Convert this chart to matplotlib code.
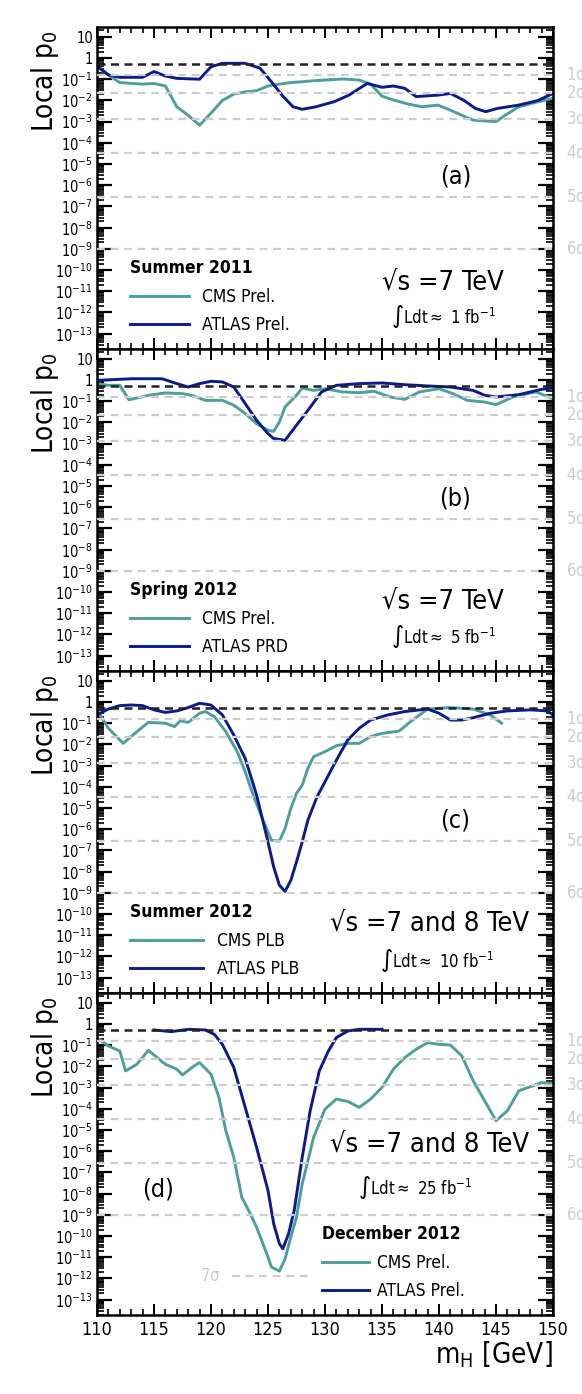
import numpy as np
import matplotlib
matplotlib.use('Agg')
import matplotlib.pyplot as plt
from matplotlib.ticker import LogLocator, FuncFormatter, MultipleLocator, NullFormatter

plt.rcParams['font.family'] = ['DejaVu Sans']
plt.rcParams['font.stretch'] = 'condensed'
plt.rcParams['mathtext.default'] = 'regular'

# # # data: local p0 vs m_H, stored as log10(p0) # # #
# (a) Summer 2011, 7 TeV, ~1 fb-1
a_cms_m = [110, 111, 112, 114, 115, 116, 117, 118, 119, 120, 121, 122, 123, 124, 125, 126, 127, 128, 129, 130,
           131.6, 133, 134, 135, 136, 137.3, 138.5, 139.9, 141, 142, 143, 145, 145.8, 147, 148.4, 150]
a_cms_lp = [-0.41, -0.8, -1.16, -1.23, -1.2, -1.32, -2.3, -2.7, -3.17, -2.6, -2.0, -1.7, -1.6, -1.54, -1.32, -1.23,
            -1.16, -1.12, -1.07, -1.04, -0.99, -1.04, -1.23, -1.8, -1.98, -2.17, -2.3, -2.22, -2.46, -2.7, -2.93,
            -3.0, -2.7, -2.3, -2.1, -1.9]
a_atl_m = [110, 111, 112, 114, 115, 116, 117, 119, 120, 121, 123, 124.3, 125.3, 126.3, 127.2, 128, 129.2, 130.8,
           132.1, 133.7, 135, 136, 137, 138, 139.9, 141, 142.2, 143.2, 144.1, 145.1, 147, 148.7, 150]
a_atl_lp = [-0.37, -0.8, -0.91, -0.91, -0.64, -0.85, -0.96, -1.0, -0.41, -0.25, -0.25, -0.48, -1.12, -1.8, -2.3,
            -2.42, -2.3, -2.06, -1.75, -1.2, -1.38, -1.32, -1.43, -1.82, -1.75, -1.67, -2.0, -2.38, -2.53, -2.38,
            -2.22, -2.0, -1.67]

# (b) Spring 2012, 7 TeV, ~5 fb-1
b_cms_m = [110, 111, 112, 112.8, 113.5, 114.5, 116, 117.5, 118.5, 119.5, 121, 122, 123, 124, 125, 125.5, 126,
           126.5, 127.5, 128, 129, 130, 131.5, 133, 134.3, 135.7, 137, 138.3, 140, 141.2, 142.5, 144, 145, 146.5,
           148.5, 150]
b_cms_lp = [-0.17, -0.25, -0.25, -0.93, -0.85, -0.72, -0.61, -0.64, -0.75, -0.96, -0.96, -1.19, -1.58, -2.06,
            -2.37, -2.42, -1.98, -1.27, -0.72, -0.38, -0.49, -0.41, -0.56, -0.6, -0.53, -0.8, -0.91, -0.56, -0.41,
            -0.64, -0.96, -1.04, -1.16, -0.8, -0.56, -0.88]
b_atl_m = [110, 113, 115.7, 117, 118, 119, 120, 121, 122, 123, 124, 125, 125.5, 126.5, 127.5, 128.5, 129.7, 131,
           133, 135, 137, 139, 141, 143, 144, 145, 147, 149, 150]
b_atl_lp = [-0.02, 0.06, 0.06, -0.17, -0.33, -0.17, -0.06, -0.09, -0.33, -1.11, -1.9, -2.53, -2.76, -2.84, -2.13,
            -1.43, -0.56, -0.25, -0.17, -0.14, -0.22, -0.28, -0.33, -0.49, -0.72, -0.8, -0.69, -0.44, -0.38]

# (c) Summer 2012, 7+8 TeV, ~10 fb-1
c_cms_m = [110, 111, 112.3, 113.5, 114.5, 116, 116.8, 117.3, 118, 119, 119.5, 120.3, 121.3, 122.3, 123, 123.7,
           124.5, 125.3, 126, 126.5, 127, 127.5, 128, 128.5, 129, 130, 131, 132, 133, 134, 135, 136.5, 137.5, 139,
           141, 143, 144.5, 145.5]
c_cms_lp = [-0.37, -1.24, -1.95, -1.4, -0.96, -1.0, -1.16, -0.89, -0.96, -0.53, -0.45, -0.69, -1.4, -2.34, -3.29,
            -4.39, -5.49, -6.52, -6.56, -5.96, -5.02, -4.31, -3.92, -3.13, -2.58, -2.34, -2.06, -1.95, -1.95, -1.63,
            -1.48, -1.37, -0.93, -0.33, -0.26, -0.33, -0.61, -1.0]
c_atl_m = [110, 111, 112, 113, 114, 115, 116, 117, 118, 119, 120, 121, 122, 123, 124, 125, 125.5, 126, 126.5, 127,
           127.5, 128, 128.5, 129.3, 130, 131, 132, 133, 134, 135.5, 137, 139, 140, 141, 142, 143, 144.5, 146, 148,
           149.5, 150]
c_atl_lp = [-0.61, -0.33, -0.17, -0.14, -0.17, -0.37, -0.49, -0.42, -0.26, -0.06, -0.14, -0.61, -1.56, -2.66,
            -4.39, -6.6, -7.78, -8.64, -8.93, -8.41, -7.54, -6.6, -5.57, -4.47, -3.76, -2.74, -1.79, -1.24, -0.85,
            -0.61, -0.45, -0.33, -0.53, -0.85, -0.85, -0.74, -0.53, -0.42, -0.37, -0.42, -0.61]

# (d) December 2012, 7+8 TeV, ~25 fb-1
d_cms_m = [110, 111, 112, 112.5, 113.5, 114.5, 116, 117, 117.5, 118.5, 119, 120, 120.7, 121.3, 122, 122.7, 123.3,
           124, 125, 125.3, 126, 126.5, 127, 127.5, 128, 129, 130, 131, 132, 133, 134, 135, 136, 137, 138, 139,
           140, 141, 142, 143, 144, 145, 146, 147, 148, 149, 150]
d_cms_lp = [-0.64, -1.04, -1.27, -2.21, -1.9, -1.24, -1.9, -2.13, -2.4, -1.98, -1.82, -2.37, -3.46, -5.03, -6.29,
            -8.17, -8.79, -9.58, -10.99, -11.46, -11.65, -11.07, -10.05, -9.11, -7.54, -5.35, -4.01, -3.54, -3.65,
            -3.93, -3.54, -2.99, -2.13, -1.58, -1.19, -0.88, -0.96, -0.99, -1.5, -2.68, -3.62, -4.56, -4.09, -3.15,
            -2.96, -2.76, -2.81]
d_atl_m = [115, 116.5, 118, 119.5, 120.3, 121, 122, 123, 124, 125, 125.5, 126, 126.3, 126.8, 127.3, 128, 128.7,
           129.5, 130.3, 131, 132, 133, 135]
d_atl_lp = [-0.28, -0.36, -0.25, -0.28, -0.49, -0.96, -2.05, -3.93, -5.82, -7.85, -9.42, -10.36, -10.6, -9.9,
            -8.79, -6.29, -4.09, -2.21, -1.27, -0.64, -0.33, -0.25, -0.25]

periods = ['Summer 2011', 'Spring 2012', 'Summer 2012', 'December 2012']
cms_labels = ['CMS Prel.', 'CMS Prel.', 'CMS PLB', 'CMS Prel.']
atlas_labels = ['ATLAS Prel.', 'ATLAS PRD', 'ATLAS PLB', 'ATLAS Prel.']
energies = ['\u221as =7 TeV', '\u221as =7 TeV', '\u221as =7 and 8 TeV', '\u221as =7 and 8 TeV']
lumis = ['1', '5', '10', '25']
tags = ['(a)', '(b)', '(c)', '(d)']

sigma_names = ['1', '2', '3', '4', '5', '6']
sigma_p = [0.1587, 0.02275, 1.35e-3, 3.167e-5, 2.867e-7, 9.866e-10]
p7 = 1.28e-12

cms_col = '#4d9f9c'
atl_col = '#0c1a8c'
grey = '#cdcdcd'

panels = [(a_cms_m, a_cms_lp, a_atl_m, a_atl_lp),
          (b_cms_m, b_cms_lp, b_atl_m, b_atl_lp),
          (c_cms_m, c_cms_lp, c_atl_m, c_atl_lp),
          (d_cms_m, d_cms_lp, d_atl_m, d_atl_lp)]

fig, axes = plt.subplots(4, 1, sharex=True, figsize=(5.82, 13.94), dpi=100)
fig.subplots_adjust(left=97/582., right=553/582., top=1-27/1394., bottom=1-1315/1394., hspace=0)


def ylab(v, pos):
    e = int(round(np.log10(v)))
    if e == 1:
        return '10'
    if e == 0:
        return '1'
    return r'$10^{%d}$' % e


# legend / text anchors (axes fraction)
leg_xy = [(0.058, 0.025), (0.058, 0.025), (0.057, 0.025), (0.478, 0.025)]
leg_hl = [3.4, 3.4, 4.2, 2.7]
leg_hp = [0.75, 0.75, 0.8, 0.5]
en_xy = [(0.625, 0.205), (0.625, 0.215), (0.51, 0.215), (0.51, 0.53)]
lu_xy = [(0.645, 0.10), (0.645, 0.107), (0.62, 0.10), (0.572, 0.397)]
tag_xy = [(0.786, 0.535), (0.786, 0.535), (0.786, 0.535), (0.135, 0.39)]

for i, ax in enumerate(axes):
    cm, cl, am, al = panels[i]
    ax.plot(cm, 10.0**np.array(cl), color=cms_col, lw=2.1, zorder=2, label=cms_labels[i])
    ax.plot(am, 10.0**np.array(al), color=atl_col, lw=2.1, zorder=2, label=atlas_labels[i])
    ax.set_yscale('log')
    ax.set_ylim(1.9e-14, 29)
    ax.set_xlim(110, 150)

    for s, p in zip(sigma_names, sigma_p):
        ax.axhline(p, color=grey, lw=1.6, ls=(0, (3.5, 2.6)), zorder=3)
        ax.text(1.028, p, s + r'$\sigma$', color=grey, fontsize=12, va='center', ha='left',
                transform=ax.get_yaxis_transform(), clip_on=False)
    ax.axhline(0.5, color='#222222', lw=1.8, ls=(0, (3.2, 2.2)), zorder=3)

    ax.yaxis.set_major_locator(LogLocator(base=10, numticks=30))
    ax.yaxis.set_minor_locator(LogLocator(base=10, subs=np.arange(2, 10), numticks=30))
    ax.yaxis.set_major_formatter(FuncFormatter(ylab))
    ax.yaxis.set_minor_formatter(NullFormatter())
    ax.xaxis.set_major_locator(MultipleLocator(5))
    ax.xaxis.set_minor_locator(MultipleLocator(1))
    ax.tick_params(axis='both', which='both', direction='in', top=True, right=True)
    ax.tick_params(axis='y', which='major', length=11, width=1.6, labelsize=10.5, pad=3)
    ax.tick_params(axis='y', which='minor', length=5, width=1.2)
    ax.tick_params(axis='x', which='major', length=8, width=1.4, labelsize=13, pad=4)
    ax.tick_params(axis='x', which='minor', length=4, width=1.2)
    for sp in ax.spines.values():
        sp.set_linewidth(1.8)

    ax.text(-0.114, 0.83, r'Local p$_0$', rotation=90, fontsize=20, ha='center', va='center',
            transform=ax.transAxes)

    leg = ax.legend(loc='lower left', bbox_to_anchor=leg_xy[i], borderaxespad=0, frameon=False,
                    fontsize=12.5, title=periods[i], title_fontproperties={'weight': 'bold', 'size': 12.5},
                    alignment='left', handlelength=leg_hl[i], labelspacing=0.6, handletextpad=leg_hp[i])
    ax.text(en_xy[i][0], en_xy[i][1], energies[i], fontsize=19.5, transform=ax.transAxes, ha='left', va='center')
    ax.text(lu_xy[i][0], lu_xy[i][1], r'$\int$Ldt$\approx$ %s fb$^{-1}$' % lumis[i], fontsize=12,
            transform=ax.transAxes, ha='left', va='center')
    ax.text(tag_xy[i][0], tag_xy[i][1], tags[i], fontsize=18, transform=ax.transAxes, ha='center', va='center')

# 7 sigma marker in the last panel
axd = axes[3]
axd.hlines(p7, 121.8, 128.8, color=grey, lw=1.6, linestyles=[(0, (3.5, 2.6))], zorder=3)
axd.text(119.9, p7, r'7$\sigma$', color=grey, fontsize=12, ha='center', va='center')
axd.text(1.0, -0.075, r'm$_H$ [GeV]', fontsize=20, ha='right', va='top', transform=axd.transAxes)

plt.savefig('out.png', dpi=100)
